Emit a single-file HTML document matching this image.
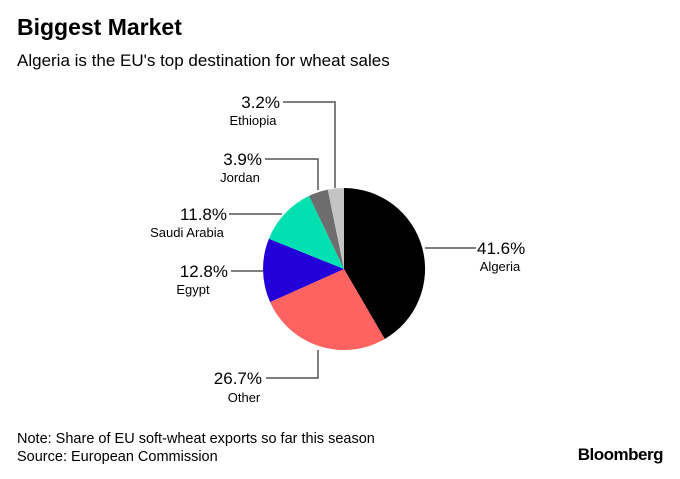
<!DOCTYPE html>
<html><head><meta charset="utf-8"><style>
html,body{margin:0;padding:0;background:#fff;}
body{width:680px;height:474px;overflow:hidden;font-family:"Liberation Sans",sans-serif;}
</style></head><body>
<svg width="680" height="474" viewBox="0 0 680 474" xmlns="http://www.w3.org/2000/svg" font-family="Liberation Sans, sans-serif">
<text x="17" y="35" font-size="23" font-weight="bold" fill="#000">Biggest Market</text>
<text x="17" y="66" font-size="17" fill="#000">Algeria is the EU's top destination for wheat sales</text>
<g stroke="none">
<path d="M344,269 L344,188 A81,81 0 0 1 384.8,339 Z" fill="#000"/>
<path d="M344,269 L384.8,339 A81,81 0 0 1 270.1,302.1 Z" fill="#ff6361"/>
<path d="M344,269 L270.1,302.1 A81,81 0 0 1 268.9,238.7 Z" fill="#2400d8"/>
<path d="M344,269 L268.9,238.7 A81,81 0 0 1 309,195.9 Z" fill="#00e0b0"/>
<path d="M344,269 L309,195.9 A81,81 0 0 1 327.8,189.6 Z" fill="#6d6d6d"/>
<path d="M344,269 L327.8,189.6 A81,81 0 0 1 344,188 Z" fill="#c4c4c4"/>
</g>
<g stroke="#555" stroke-width="1.5" fill="none">
<polyline points="425,248 476,248"/>
<polyline points="318,350 318,378 266,378"/>
<polyline points="263,271 231,271"/>
<polyline points="282,214 229,214"/>
<polyline points="318,190 318,159 265,159"/>
<polyline points="335,188 335,102 283,102"/>
</g>
<g font-size="17" fill="#000" text-anchor="end">
<text x="280" y="108">3.2%</text>
<text x="262" y="165">3.9%</text>
<text x="227" y="220">11.8%</text>
<text x="228" y="277">12.8%</text>
<text x="262" y="384">26.7%</text>
</g>
<g font-size="13" fill="#000" text-anchor="middle">
<text x="253" y="125">Ethiopia</text>
<text x="240" y="182">Jordan</text>
<text x="187" y="237">Saudi Arabia</text>
<text x="193" y="294">Egypt</text>
<text x="244" y="402">Other</text>
<text x="500" y="271">Algeria</text>
</g>
<text x="477" y="254" font-size="17" fill="#000">41.6%</text>
<text x="17" y="443" font-size="14.5" fill="#000">Note: Share of EU soft-wheat exports so far this season</text>
<text x="17" y="461" font-size="14.5" fill="#000">Source: European Commission</text>
<text x="663" y="460" font-size="17" font-weight="bold" fill="#000" text-anchor="end" letter-spacing="-0.5">Bloomberg</text>
</svg>
</body></html>
